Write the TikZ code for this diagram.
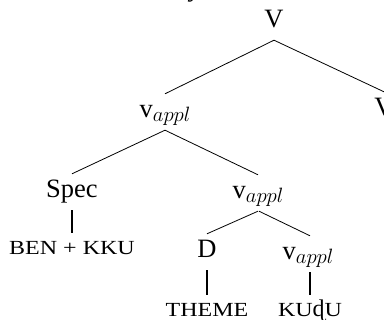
\documentclass[tikz,border=0pt]{standalone}
\usepackage{fontspec}
\setmainfont{Liberation Serif}
\newfontfamily\scfont[FakeStretch=1.2]{Liberation Serif}
\newcommand\fakesc[1]{{\scfont\fontsize{20}{22}\selectfont #1}}
\newcommand\vappl{v\raisebox{-4pt}{\fontsize{20}{22}\selectfont$appl$}}
\begin{document}
\begin{tikzpicture}[x=1pt,y=-1pt,
  lab/.style={anchor=base,inner sep=0pt,text height=24pt,text depth=12pt,font=\fontsize{26.5}{30}\selectfont},
  leaf/.style={anchor=base,inner sep=0pt,text height=22pt,text depth=6pt},
  branch/.style={line width=0.8pt},
  stem/.style={line width=1.6pt}]
\useasboundingbox (0,0) rectangle (384,320);
\node[anchor=base,inner sep=0pt,font=\fontsize{26.5}{30}\selectfont\itshape] (frag) at (196,-3) {y};
\node[lab] (V) at (274,28) {V};
\node[lab] (Vr) at (384,116) {V};
\node[lab] (va1) at (165,118) {\vappl};
\node[lab] (spec) at (72,198) {Spec};
\node[lab] (va2) at (258,199) {\vappl};
\node[lab] (D) at (207,258) {D};
\node[lab] (va3) at (308,260) {\vappl};
\node[leaf] (ben) at (72,255) {\fakesc{BEN + KKU}};
\node[leaf] (theme) at (207,317) {\fakesc{THEME}};
\node[leaf] (kudu) at (310,317) {\fakesc{KU}{\fontsize{24}{26}\selectfont ɖ}\fakesc{U}};
\draw[branch] (V.south) -- (va1.north);
\draw[branch] (V.south) -- (Vr.north);
\draw[branch] (va1.south) -- (spec.north);
\draw[branch] (va1.south) -- (va2.north);
\draw[branch] (va2.south) -- (D.north);
\draw[branch] ([xshift=1pt]va2.south) -- ([xshift=2pt]va3.north);
\draw[stem] (spec.south) -- (ben.north);
\draw[stem] (D.south) -- (theme.north);
\draw[stem] ([xshift=2pt]va3.south) -- (kudu.north);
\end{tikzpicture}
\end{document}
